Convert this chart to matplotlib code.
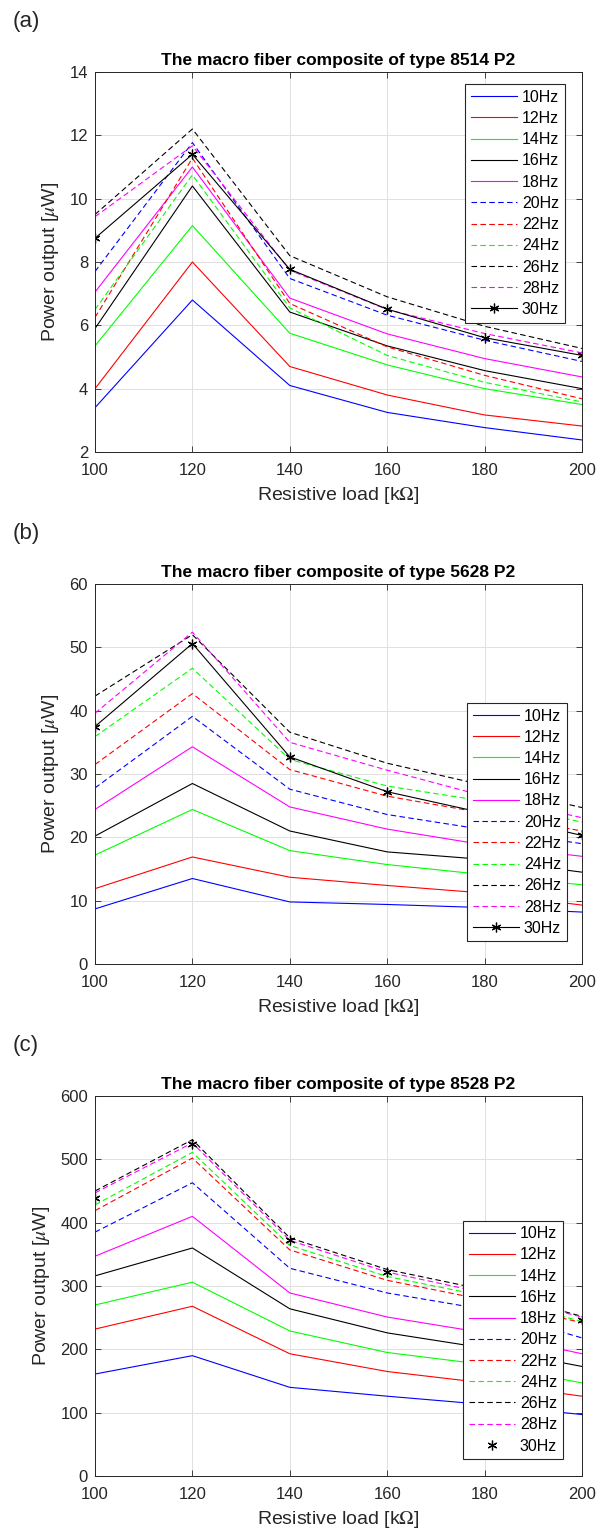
import matplotlib.pyplot as plt

plt.rcParams['font.family'] = ['Liberation Sans', 'DejaVu Sans']
plt.rcParams['mathtext.fontset'] = 'stix'

# Resistive load [kOhm]
loads = [100, 120, 140, 160, 180, 200]
freq_labels = ['10Hz', '12Hz', '14Hz', '16Hz', '18Hz', '20Hz',
               '22Hz', '24Hz', '26Hz', '28Hz', '30Hz']

# (a) MFC 8514 P2, power in uW
a_10 = [3.4, 6.8, 4.1, 3.25, 2.77, 2.38]
a_12 = [4.0, 8.0, 4.7, 3.8, 3.17, 2.82]
a_14 = [5.35, 9.15, 5.75, 4.75, 4.0, 3.5]
a_16 = [5.9, 10.4, 6.42, 5.35, 4.57, 4.0]
a_18 = [7.05, 11.0, 6.86, 5.73, 4.95, 4.37]
a_20 = [7.7, 11.77, 7.48, 6.32, 5.53, 4.86]
a_22 = [6.25, 11.28, 6.69, 5.32, 4.42, 3.68]
a_24 = [6.5, 10.75, 6.55, 5.05, 4.2, 3.58]
a_26 = [9.5, 12.2, 8.2, 6.9, 5.97, 5.27]
a_28 = [9.43, 11.67, 7.74, 6.5, 5.74, 5.13]
a_30 = [8.75, 11.4, 7.77, 6.51, 5.61, 5.05]

# (b) MFC 5628 P2
b_10 = [8.7, 13.5, 9.8, 9.4, 8.9, 8.2]
b_12 = [11.9, 16.9, 13.7, 12.4, 11.2, 9.3]
b_14 = [17.2, 24.4, 17.9, 15.7, 14.1, 12.5]
b_16 = [20.2, 28.5, 21.0, 17.7, 16.5, 14.5]
b_18 = [24.4, 34.3, 24.8, 21.3, 18.8, 17.0]
b_20 = [27.8, 39.1, 27.6, 23.6, 21.2, 19.0]
b_22 = [31.5, 42.7, 30.7, 26.5, 23.8, 21.0]
b_24 = [35.9, 46.7, 32.3, 28.1, 25.7, 22.4]
b_26 = [42.3, 52.0, 36.6, 31.7, 28.2, 24.7]
b_28 = [39.6, 52.4, 35.0, 30.6, 26.5, 23.1]
b_30 = [37.5, 50.6, 32.7, 27.2, 23.8, 20.3]

# (c) MFC 8528 P2
c_10 = [161, 190, 140, 126, 113, 97]
c_12 = [232, 268, 193, 165, 147, 126]
c_14 = [270, 306, 229, 195, 176, 147]
c_16 = [316, 360, 264, 226, 202, 173]
c_18 = [347, 410, 289, 251, 226, 193]
c_20 = [385, 463, 328, 289, 263, 218]
c_22 = [419, 502, 357, 309, 278, 242]
c_24 = [428, 511, 364, 315, 284, 244]
c_26 = [450, 531, 376, 326, 294, 252]
c_28 = [447, 526, 372, 322, 289, 251]
c_30 = [439, 524, 373, 322, 287, 246]

panels = [
    ('(a)', 'The macro fiber composite of type 8514 P2',
     [a_10, a_12, a_14, a_16, a_18, a_20, a_22, a_24, a_26, a_28, a_30],
     (2, 14), range(2, 15, 2)),
    ('(b)', 'The macro fiber composite of type 5628 P2',
     [b_10, b_12, b_14, b_16, b_18, b_20, b_22, b_24, b_26, b_28, b_30],
     (0, 60), range(0, 61, 10)),
    ('(c)', 'The macro fiber composite of type 8528 P2',
     [c_10, c_12, c_14, c_16, c_18, c_20, c_22, c_24, c_26, c_28, c_30],
     (0, 600), range(0, 601, 100)),
]

# matlab-style colour letters
rgb = {'b': (0, 0, 1), 'r': (1, 0, 0), 'g': (0, 1, 0),
       'k': (0, 0, 0), 'm': (1, 0, 1)}
colors = [rgb[c] for c in 'brgkmbrgkmk']
styles = ['-'] * 5 + ['--'] * 5 + ['-']

W, H = 606, 1533
fig = plt.figure(figsize=(W / 100, H / 100), dpi=100)

ax_tops = [72, 584, 1096]
ax_h = 380
leg_pos = [(0.760, 0.968), (0.764, 0.687), (0.756, 0.672)]
edge = (0.15, 0.15, 0.15)

for i, (tag, title, series, ylim, yticks) in enumerate(panels):
    top = ax_tops[i]
    ax = fig.add_axes([95 / W, 1 - (top + ax_h) / H, 487 / W, ax_h / H])

    for j, vals in enumerate(series):
        if j == 10:
            # 30Hz: asterisks (markers only in the last panel)
            ls = 'none' if i == 2 else '-'
            ax.plot(loads, vals, color='k', linestyle=ls, linewidth=0.8,
                    marker=(6, 2, 0), markersize=7, markeredgewidth=0.9,
                    label=freq_labels[j])
        elif styles[j] == '--':
            ax.plot(loads, vals, color=colors[j], linestyle='--',
                    dashes=(5, 3), linewidth=0.8, label=freq_labels[j])
        else:
            ax.plot(loads, vals, color=colors[j], linestyle='-',
                    linewidth=0.8, label=freq_labels[j])

    ax.set_xlim(100, 200)
    ax.set_ylim(*ylim)
    ax.set_xticks(loads)
    ax.set_yticks(list(yticks))
    ax.grid(True, color=(0.88, 0.88, 0.88), linewidth=0.7)
    ax.set_axisbelow(True)
    ax.tick_params(direction='in', top=True, right=True, length=4,
                   width=0.6, labelsize=12, colors=edge)
    ax.tick_params(axis='x', pad=8)
    ax.tick_params(axis='y', pad=5)
    for sp in ax.spines.values():
        sp.set_color(edge)
        sp.set_linewidth(0.7)

    ax.set_title(title, fontsize=12.5, fontweight='bold', pad=5)
    ax.set_xlabel('Resistive load [k$\\Omega$]', fontsize=14, color=edge,
                  labelpad=5)
    ax.set_ylabel('Power output [$\\mu$W]', fontsize=14, color=edge,
                  labelpad=6)

    leg = ax.legend(loc='upper left', bbox_to_anchor=leg_pos[i],
                    fontsize=11.5, handlelength=2.9, handletextpad=0.3,
                    labelspacing=0.39, borderpad=0.35, borderaxespad=0,
                    fancybox=False, framealpha=1, edgecolor=edge)
    leg.get_frame().set_linewidth(0.8)

    fig.text(13 / W, 1 - (top - 51) / H, tag, fontsize=16, va='center',
             ha='left', color=edge)

fig.savefig('out.png', dpi=100)
